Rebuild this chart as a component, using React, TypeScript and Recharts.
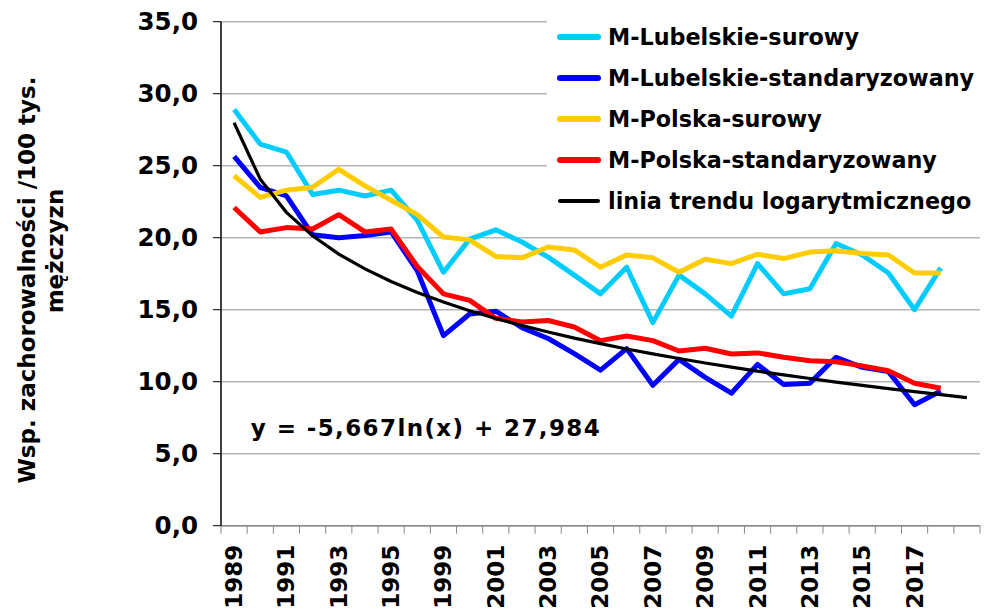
import { LineChart, Line, XAxis, YAxis, CartesianGrid, Legend } from 'recharts';

const categories = [
    '1989', '1990', '1991', '1992', '1993', '1994', '1995', '1998', '1999', '2000',
    '2001', '2002', '2003', '2004', '2005', '2006', '2007', '2008', '2009', '2010',
    '2011', '2012', '2013', '2014', '2015', '2016', '2017', '2018', '',
];

const lubelskieSurowy = [
    28.9, 26.5, 25.95, 23.0, 23.3, 22.9, 23.3, 21.2, 17.6, 19.9,
    20.55, 19.7, 18.65, 17.4, 16.1, 17.95, 14.1, 17.4, 16.1, 14.55,
    18.2, 16.1, 16.45, 19.6, 18.8, 17.55, 15.0, 17.9,
];

const lubelskieStd = [
    25.65, 23.5, 22.9, 20.2, 20.0, 20.15, 20.4, 17.7, 13.2, 14.7,
    14.9, 13.75, 13.0, 11.95, 10.8, 12.3, 9.75, 11.55, 10.3, 9.2,
    11.2, 9.8, 9.9, 11.7, 11.0, 10.7, 8.4, 9.35,
];

const polskaSurowy = [
    24.3, 22.8, 23.3, 23.5, 24.75, 23.6, 22.6, 21.6, 20.05, 19.85,
    18.7, 18.6, 19.35, 19.15, 17.95, 18.8, 18.6, 17.6, 18.5, 18.2,
    18.85, 18.55, 19.0, 19.1, 18.9, 18.8, 17.55, 17.55,
];

const polskaStd = [
    22.1, 20.4, 20.7, 20.6, 21.6, 20.4, 20.6, 18.0, 16.1, 15.65,
    14.4, 14.15, 14.25, 13.8, 12.85, 13.17, 12.85, 12.13, 12.32, 11.92,
    12.0, 11.7, 11.46, 11.39, 11.1, 10.76, 9.89, 9.54,
];

// linia trendu logarytmicznego
const trend = [
    27.98, 24.06, 21.76, 20.13, 18.86, 17.83, 16.96, 16.2, 15.53, 14.93,
    14.39, 13.9, 13.45, 13.03, 12.64, 12.27, 11.93, 11.61, 11.3, 11.01,
    10.73, 10.47, 10.22, 9.97, 9.74, 9.52, 9.31, 9.1, 8.9,
];

const seriesNames = [
    'M-Lubelskie-surowy',
    'M-Lubelskie-standaryzowany',
    'M-Polska-surowy',
    'M-Polska-standaryzowany',
    'linia trendu logarytmicznego',
];

const yTicks = [0, 5, 10, 15, 20, 25, 30, 35];

const FONT = '"DejaVu Sans", Verdana, sans-serif';

const data = categories.map((year, i) => ({
    idx: i,
    year,
    lubSur: lubelskieSurowy[i],
    lubStd: lubelskieStd[i],
    polSur: polskaSurowy[i],
    polStd: polskaStd[i],
    trend: trend[i],
}));

// ticks at category centres (labels) and boundaries (tick marks, like Excel)
const xTicks = categories.flatMap((_, i) => [i - 0.5, i]).concat(categories.length - 0.5);

function XTick({ x, y, payload }: any) {
    const v = payload.value as number;
    if (!Number.isInteger(v)) {
        return <line x1={x} x2={x} y1={y} y2={y + 8} stroke="#888" strokeWidth={1} />;
    }
    const label = categories[v];
    if (v % 2 !== 0 || !label) return null;
    return (
        <text
            x={x}
            y={y + 19}
            transform={`rotate(-90, ${x}, ${y + 19})`}
            textAnchor="end"
            dominantBaseline="central"
            fontFamily={FONT}
            fontWeight="bold"
            fontSize={23}
            fill="#000"
        >
            {label}
        </text>
    );
}

function LegendBox({ payload }: any) {
    const items = [...(payload || [])].sort(
        (a: any, b: any) => seriesNames.indexOf(a.value) - seriesNames.indexOf(b.value)
    );
    return (
        <div style={{ paddingTop: 16, fontFamily: FONT, fontWeight: 'bold', fontSize: 22.3, color: '#000' }}>
            {items.map((item: any, index: number) => (
                <div key={index} style={{ display: 'flex', alignItems: 'center', height: 41.2, whiteSpace: 'nowrap' }}>
                    <svg width={54} height={10} style={{ flex: 'none' }}>
                        <line x1={13} x2={51} y1={5} y2={5} stroke={item.color} strokeWidth={item.value.startsWith('linia') ? 4 : 6} strokeLinecap="round" />
                    </svg>
                    <span style={{ marginLeft: 7 }}>{item.value}</span>
                </div>
            ))}
        </div>
    );
}

export default function App() {
    return (
        <div style={{ position: 'absolute', left: 0, top: 0, width: 990, height: 614, background: '#fff' }}>
            <LineChart width={990} height={614} data={data} margin={{ top: 21.7, right: 10, bottom: 0, left: 0 }}>
                <CartesianGrid horizontal vertical={false} stroke="#b5b5b5" strokeWidth={1.5} />
                <XAxis
                    type="number"
                    dataKey="idx"
                    domain={[-0.5, categories.length - 0.5]}
                    ticks={xTicks}
                    interval={0}
                    height={88.3}
                    tickSize={0}
                    tickMargin={0}
                    tickLine={false}
                    axisLine={{ stroke: '#888', strokeWidth: 1.5 }}
                    tick={<XTick />}
                />
                <YAxis
                    type="number"
                    domain={[0, 35]}
                    ticks={yTicks}
                    interval={0}
                    width={221}
                    tickSize={8}
                    tickMargin={15}
                    axisLine={{ stroke: '#000', strokeWidth: 1.5 }}
                    tickLine={{ stroke: '#000' }}
                    tickFormatter={(v: number) => v.toFixed(1).replace('.', ',')}
                    tick={{ fill: '#000', fontFamily: FONT, fontWeight: 'bold', fontSize: 24.5 }}
                />
                <Legend
                    layout="vertical"
                    align="center"
                    verticalAlign="middle"
                    wrapperStyle={{ position: 'absolute', top: 0, left: 547, width: 443, height: 226, background: '#fff' }}
                    content={<LegendBox />}
                />
                <Line name={seriesNames[0]} dataKey="lubSur" stroke="#00CCFF" strokeWidth={5} dot={false} strokeLinejoin="round" isAnimationActive={false} />
                <Line name={seriesNames[1]} dataKey="lubStd" stroke="#0000FF" strokeWidth={5} dot={false} strokeLinejoin="round" isAnimationActive={false} />
                <Line name={seriesNames[2]} dataKey="polSur" stroke="#FFCC00" strokeWidth={5} dot={false} strokeLinejoin="round" isAnimationActive={false} />
                <Line name={seriesNames[3]} dataKey="polStd" stroke="#FF0000" strokeWidth={5} dot={false} strokeLinejoin="round" isAnimationActive={false} />
                <Line name={seriesNames[4]} dataKey="trend" stroke="#000" strokeWidth={3.2} dot={false} isAnimationActive={false} />
            </LineChart>

            <div style={{ position: 'absolute', left: 27, top: 280, transform: 'translate(-50%, -50%) rotate(-90deg)', whiteSpace: 'nowrap', fontFamily: FONT, fontWeight: 'bold', fontSize: 23 }}>
                Wsp. zachorowalności /100 tys.
            </div>
            <div style={{ position: 'absolute', left: 55, top: 251, transform: 'translate(-50%, -50%) rotate(-90deg)', whiteSpace: 'nowrap', fontFamily: FONT, fontWeight: 'bold', fontSize: 23 }}>
                mężczyzn
            </div>
            <div style={{ position: 'absolute', left: 426, top: 428, transform: 'translate(-50%, -50%)', whiteSpace: 'nowrap', fontFamily: FONT, fontWeight: 'bold', fontSize: 23, letterSpacing: 1.4 }}>
                y = -5,667ln(x) + 27,984
            </div>
        </div>
    );
}
